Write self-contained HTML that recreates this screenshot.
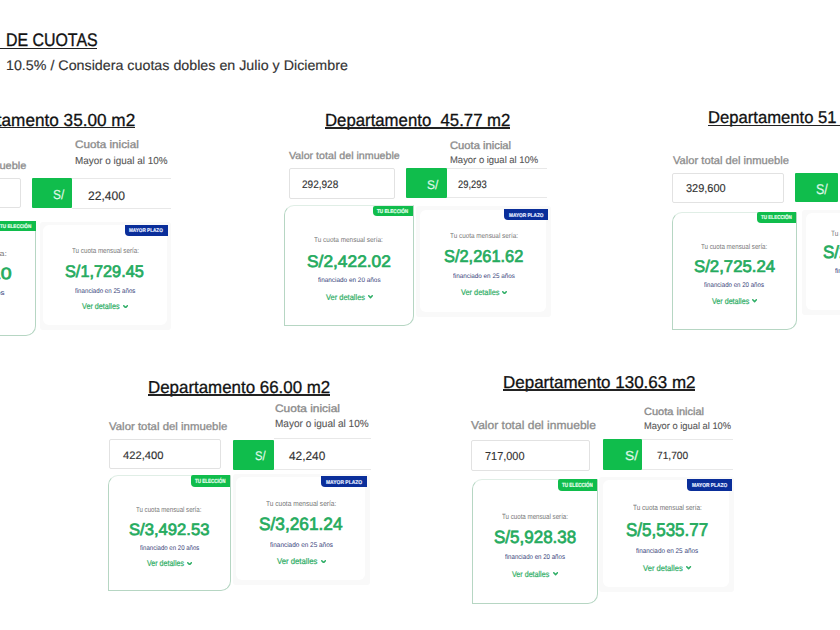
<!DOCTYPE html>
<html><head><meta charset="utf-8"><style>
html,body{margin:0;padding:0;background:#fff;width:840px;height:630px;overflow:hidden;position:relative}
.t{position:absolute;white-space:nowrap;font-family:"Liberation Sans", sans-serif;transform-origin:0 0;text-rendering:geometricPrecision}
.b{position:absolute}
</style></head><body>
<div id="t1" class="t" style="left:6.00px;top:28px;font-size:18.17px;line-height:24px;color:#111;font-weight:normal;-webkit-text-stroke:0.35px #111;transform:scaleX(0.8759);">DE CUOTAS</div>
<div class="b" style="left:0.00px;top:48.00px;width:97.30px;height:1.30px;background:#222;"></div>
<div id="t2" class="t" style="left:5.70px;top:56px;font-size:13.95px;line-height:18px;color:#333;font-weight:normal;-webkit-text-stroke:0.15px #333;transform:scaleX(1.0239);">10.5% / Considera cuotas dobles en Julio y Diciembre</div>
<div id="t3" class="t" style="left:-50.50px;top:109px;font-size:17.44px;line-height:22px;color:#111;font-weight:normal;-webkit-text-stroke:0.30px #111;transform:scaleX(0.9848);white-space:pre;">Departamento 35.00 m2</div>
<div class="b" style="left:-50.50px;top:127.20px;width:185.20px;height:1.30px;background:#222;"></div>
<div id="t4" class="t" style="left:-88.00px;top:159px;font-size:10.32px;line-height:15px;color:#8c8c8c;font-weight:normal;-webkit-text-stroke:0.30px #8c8c8c;transform:scaleX(1.0690);">Valor total del inmueble</div>
<div class="b" style="left:-95.00px;top:177.60px;width:116.30px;height:30.60px;border:1px solid #e2e2e2;box-sizing:border-box;background:#fff;border-radius:2px;"></div>
<div id="t5" class="t" style="left:74.75px;top:137px;font-size:10.90px;line-height:16px;color:#8c8c8c;font-weight:normal;-webkit-text-stroke:0.35px #8c8c8c;transform:scaleX(1.0745);">Cuota inicial</div>
<div id="t6" class="t" style="left:74.75px;top:154px;font-size:10.17px;line-height:15px;color:#555;font-weight:normal;-webkit-text-stroke:0.10px #555;transform:scaleX(0.9753);">Mayor o igual al 10%</div>
<div class="b" style="left:72.20px;top:177.60px;width:99.20px;height:31.90px;border-top:1px solid #e8e8e8;border-bottom:1px solid #e8e8e8;box-sizing:border-box;background:#fff;"></div>
<div class="b" style="left:32.10px;top:177.90px;width:40.10px;height:30.40px;background:#10bd4c;border-radius:1px;"></div>
<div id="t7" class="t" style="left:53.10px;top:185px;font-size:13.08px;line-height:19px;color:#dff7e6;font-weight:normal;-webkit-text-stroke:0.20px #dff7e6;transform:scaleX(0.9062);">S/</div>
<div id="t8" class="t" style="left:87.90px;top:187px;font-size:12.35px;line-height:18px;color:#333;font-weight:normal;-webkit-text-stroke:0.15px #333;transform:scaleX(0.9797);">22,400</div>
<div class="b" style="left:39.60px;top:221.80px;width:131.80px;height:108.20px;background:#f9f9f9;border-radius:3px;"></div>
<div class="b" style="left:43.10px;top:225.30px;width:123.80px;height:100.20px;background:#fff;border-radius:6px;"></div>
<div class="b" style="left:125.00px;top:224.60px;width:42.80px;height:11.50px;background:#0a2e9a;border-radius:0 0 0 4px;"></div>
<div id="t9" class="t" style="left:129.28px;top:226px;font-size:5.40px;line-height:10px;color:#e2eaff;font-weight:bold;-webkit-text-stroke:0.20px #e2eaff;transform:scaleX(0.8594);">MAYOR PLAZO</div>
<div id="t10" class="t" style="left:71.80px;top:244px;font-size:7.40px;line-height:13px;color:#777;font-weight:normal;transform:scaleX(0.8479);">Tu cuota mensual sería:</div>
<div id="t11" class="t" style="left:65.40px;top:261px;font-size:16.86px;line-height:21px;color:#25ab5e;font-weight:normal;-webkit-text-stroke:0.70px #25ab5e;transform:scaleX(0.9661);">S/1,729.45</div>
<div id="t12" class="t" style="left:75.00px;top:286px;font-size:6.80px;line-height:11px;color:#38437a;font-weight:normal;transform:scaleX(0.9081);">financiado en 25 años</div>
<div id="t13" class="t" style="left:82.10px;top:299px;font-size:8.30px;line-height:14px;color:#2fae66;font-weight:normal;-webkit-text-stroke:0.20px #2fae66;transform:scaleX(0.8656);">Ver detalles</div>
<svg class="b" style="left:122.95px;top:304.90px" width="5.15" height="3.60" viewBox="0 0 10 7"><path d="M1.5 1.5 L5 5.2 L8.5 1.5" fill="none" stroke="#2fae66" stroke-width="3" stroke-linecap="round" stroke-linejoin="round"/></svg>
<div class="b" style="left:-94.00px;top:220.50px;width:130.10px;height:115.10px;border:1px solid #b6d6c3;border-top-color:#e0eee6;border-radius:10px 0 10px 0;box-sizing:border-box;background:#fff;"></div>
<div class="b" style="left:-4.50px;top:220.50px;width:40.10px;height:10.90px;background:#10bd4c;border-radius:2px 0 0 4px;"></div>
<div id="t14" class="t" style="left:-0.49px;top:222px;font-size:5.45px;line-height:10px;color:#e3ffec;font-weight:bold;-webkit-text-stroke:0.20px #e3ffec;transform:scaleX(0.8486);">TU ELECCIÓN</div>
<div id="t15" class="t" style="right:833.40px;transform-origin:100% 0;transform:scaleX(1.2);top:247px;font-size:7.40px;line-height:13px;color:#777;font-weight:normal;">Tu cuota mensual sería:</div>
<div id="t16" class="t" style="right:828.00px;transform-origin:100% 0;transform:scaleX(1.2);top:263px;font-size:16.28px;line-height:22px;color:#25ab5e;font-weight:normal;-webkit-text-stroke:0.70px #25ab5e;">S/1,844.10</div>
<div id="t17" class="t" style="right:835.90px;transform-origin:100% 0;transform:scaleX(1.2);top:288px;font-size:6.80px;line-height:11px;color:#38437a;font-weight:normal;">financiado en 20 años</div>
<div id="t18" class="t" style="left:324.60px;top:109px;font-size:17.44px;line-height:22px;color:#111;font-weight:normal;-webkit-text-stroke:0.30px #111;transform:scaleX(0.9611);white-space:pre;">Departamento  45.77 m2</div>
<div class="b" style="left:324.60px;top:127.40px;width:185.40px;height:1.30px;background:#222;"></div>
<div id="t19" class="t" style="left:289.20px;top:149px;font-size:10.32px;line-height:15px;color:#8c8c8c;font-weight:normal;-webkit-text-stroke:0.30px #8c8c8c;transform:scaleX(1.0354);">Valor total del inmueble</div>
<div class="b" style="left:289.20px;top:168.30px;width:105.50px;height:30.40px;border:1px solid #e2e2e2;box-sizing:border-box;background:#fff;border-radius:2px;"></div>
<div id="t20" class="t" style="left:301.70px;top:177px;font-size:10.90px;line-height:16px;color:#333;font-weight:normal;-webkit-text-stroke:0.15px #333;transform:scaleX(0.9219);">292,928</div>
<div id="t21" class="t" style="left:449.50px;top:138px;font-size:10.90px;line-height:16px;color:#8c8c8c;font-weight:normal;-webkit-text-stroke:0.35px #8c8c8c;transform:scaleX(1.0299);">Cuota inicial</div>
<div id="t22" class="t" style="left:449.50px;top:153px;font-size:9.59px;line-height:15px;color:#555;font-weight:normal;-webkit-text-stroke:0.10px #555;transform:scaleX(0.9866);">Mayor o igual al 10%</div>
<div class="b" style="left:446.70px;top:168.30px;width:100.30px;height:29.90px;border-top:1px solid #e8e8e8;border-bottom:1px solid #e8e8e8;box-sizing:border-box;background:#fff;"></div>
<div class="b" style="left:406.10px;top:168.30px;width:40.60px;height:29.90px;background:#10bd4c;border-radius:1px;"></div>
<div id="t23" class="t" style="left:426.70px;top:176px;font-size:12.50px;line-height:18px;color:#dff7e6;font-weight:normal;-webkit-text-stroke:0.20px #dff7e6;transform:scaleX(0.9566);">S/</div>
<div id="t24" class="t" style="left:458.00px;top:177px;font-size:10.90px;line-height:16px;color:#333;font-weight:normal;-webkit-text-stroke:0.15px #333;transform:scaleX(0.8615);">29,293</div>
<div class="b" style="left:416.20px;top:206.00px;width:134.80px;height:110.60px;background:#f9f9f9;border-radius:3px;"></div>
<div class="b" style="left:419.70px;top:209.50px;width:126.80px;height:102.60px;background:#fff;border-radius:6px;"></div>
<div class="b" style="left:504.20px;top:209.20px;width:43.60px;height:11.30px;background:#0a2e9a;border-radius:0 0 0 4px;"></div>
<div id="t25" class="t" style="left:508.56px;top:211px;font-size:5.31px;line-height:10px;color:#e2eaff;font-weight:bold;-webkit-text-stroke:0.20px #e2eaff;transform:scaleX(0.8910);">MAYOR PLAZO</div>
<div id="t26" class="t" style="left:450.20px;top:229px;font-size:7.20px;line-height:13px;color:#777;font-weight:normal;transform:scaleX(0.8849);">Tu cuota mensual sería:</div>
<div id="t27" class="t" style="left:444.30px;top:245px;font-size:17.15px;line-height:22px;color:#25ab5e;font-weight:normal;-webkit-text-stroke:0.70px #25ab5e;transform:scaleX(0.9563);">S/2,261.62</div>
<div id="t28" class="t" style="left:453.30px;top:271px;font-size:6.60px;line-height:11px;color:#38437a;font-weight:normal;transform:scaleX(0.9592);">financiado en 25 años</div>
<div id="t29" class="t" style="left:460.50px;top:286px;font-size:8.10px;line-height:13px;color:#2fae66;font-weight:normal;-webkit-text-stroke:0.20px #2fae66;transform:scaleX(0.9111);">Ver detalles</div>
<svg class="b" style="left:502.28px;top:290.54px" width="5.02" height="3.52" viewBox="0 0 10 7"><path d="M1.5 1.5 L5 5.2 L8.5 1.5" fill="none" stroke="#2fae66" stroke-width="3" stroke-linecap="round" stroke-linejoin="round"/></svg>
<div class="b" style="left:284.40px;top:205.00px;width:129.60px;height:121.00px;border:1px solid #b6d6c3;border-top-color:#e0eee6;border-radius:10px 0 10px 0;box-sizing:border-box;background:#fff;"></div>
<div class="b" style="left:372.90px;top:205.50px;width:40.00px;height:10.60px;background:#10bd4c;border-radius:2px 0 0 4px;"></div>
<div id="t30" class="t" style="left:376.90px;top:207px;font-size:5.30px;line-height:10px;color:#e3ffec;font-weight:bold;-webkit-text-stroke:0.20px #e3ffec;transform:scaleX(0.8689);">TU ELECCIÓN</div>
<div id="t31" class="t" style="left:314.40px;top:233px;font-size:7.20px;line-height:13px;color:#777;font-weight:normal;transform:scaleX(0.8966);">Tu cuota mensual sería:</div>
<div id="t32" class="t" style="left:307.00px;top:251px;font-size:16.72px;line-height:21px;color:#25ab5e;font-weight:normal;-webkit-text-stroke:0.70px #25ab5e;transform:scaleX(1.0382);">S/2,422.02</div>
<div id="t33" class="t" style="left:317.80px;top:275px;font-size:6.60px;line-height:11px;color:#38437a;font-weight:normal;transform:scaleX(0.9701);">financiado en 20 años</div>
<div id="t34" class="t" style="left:325.60px;top:291px;font-size:8.10px;line-height:13px;color:#2fae66;font-weight:normal;-webkit-text-stroke:0.20px #2fae66;transform:scaleX(0.9230);">Ver detalles</div>
<svg class="b" style="left:367.88px;top:295.34px" width="5.02" height="3.52" viewBox="0 0 10 7"><path d="M1.5 1.5 L5 5.2 L8.5 1.5" fill="none" stroke="#2fae66" stroke-width="3" stroke-linecap="round" stroke-linejoin="round"/></svg>
<div id="t35" class="t" style="left:707.50px;top:106px;font-size:17.01px;line-height:23px;color:#111;font-weight:normal;-webkit-text-stroke:0.30px #111;transform:scaleX(0.9789);white-space:pre;">Departamento 51</div>
<div class="b" style="left:707.50px;top:124.70px;width:133.00px;height:1.30px;background:#222;"></div>
<div id="t36" class="t" style="left:673.30px;top:153px;font-size:10.90px;line-height:16px;color:#8c8c8c;font-weight:normal;-webkit-text-stroke:0.30px #8c8c8c;transform:scaleX(1.0255);">Valor total del inmueble</div>
<div class="b" style="left:672.40px;top:172.60px;width:111.40px;height:30.00px;border:1px solid #e2e2e2;box-sizing:border-box;background:#fff;border-radius:2px;"></div>
<div id="t37" class="t" style="left:685.70px;top:181px;font-size:11.48px;line-height:16px;color:#333;font-weight:normal;-webkit-text-stroke:0.15px #333;transform:scaleX(0.9573);">329,600</div>
<div class="b" style="left:794.80px;top:172.80px;width:43.50px;height:29.70px;background:#10bd4c;border-radius:1px;"></div>
<div id="t38" class="t" style="left:816.40px;top:179px;font-size:14.10px;line-height:20px;color:#dff7e6;font-weight:normal;-webkit-text-stroke:0.20px #dff7e6;transform:scaleX(0.8853);">S/</div>
<div class="b" style="left:802.20px;top:209.50px;width:137.80px;height:105.10px;background:#f9f9f9;border-radius:3px;"></div>
<div class="b" style="left:805.70px;top:213.00px;width:129.80px;height:97.10px;background:#fff;border-radius:6px;"></div>
<div class="b" style="left:900.00px;top:213.00px;width:40.00px;height:11.00px;background:#0a2e9a;border-radius:0 0 0 4px;"></div>
<div id="t39" class="t" style="left:904.00px;top:214px;font-size:5.17px;line-height:10px;color:#e2eaff;font-weight:bold;-webkit-text-stroke:0.20px #e2eaff;transform:scaleX(0.8399);">MAYOR PLAZO</div>
<div id="t40" class="t" style="left:830.70px;top:227px;font-size:7.60px;line-height:13px;color:#777;font-weight:normal;transform:scaleX(0.8536);">Tu cuota mensual sería:</div>
<div id="t41" class="t" style="left:822.60px;top:241px;font-size:17.59px;line-height:22px;color:#25ab5e;font-weight:normal;-webkit-text-stroke:0.70px #25ab5e;transform:scaleX(0.9689);">S/2,542.10</div>
<div id="t42" class="t" style="left:834.60px;top:266px;font-size:7.00px;line-height:11px;color:#38437a;font-weight:normal;transform:scaleX(0.9547);">financiado en 25 años</div>
<div class="b" style="left:671.60px;top:211.60px;width:125.10px;height:118.00px;border:1px solid #b6d6c3;border-top-color:#e0eee6;border-radius:10px 0 10px 0;box-sizing:border-box;background:#fff;"></div>
<div class="b" style="left:756.70px;top:211.60px;width:39.50px;height:11.30px;background:#10bd4c;border-radius:2px 0 0 4px;"></div>
<div id="t43" class="t" style="left:760.65px;top:213px;font-size:5.65px;line-height:10px;color:#e3ffec;font-weight:bold;-webkit-text-stroke:0.20px #e3ffec;transform:scaleX(0.8058);">TU ELECCIÓN</div>
<div id="t44" class="t" style="left:701.00px;top:240px;font-size:7.40px;line-height:13px;color:#777;font-weight:normal;transform:scaleX(0.8391);">Tu cuota mensual sería:</div>
<div id="t45" class="t" style="left:693.80px;top:256px;font-size:16.86px;line-height:21px;color:#25ab5e;font-weight:normal;-webkit-text-stroke:0.70px #25ab5e;transform:scaleX(0.9943);">S/2,725.24</div>
<div id="t46" class="t" style="left:704.00px;top:280px;font-size:6.80px;line-height:11px;color:#38437a;font-weight:normal;transform:scaleX(0.9020);">financiado en 20 años</div>
<div id="t47" class="t" style="left:711.60px;top:294px;font-size:8.30px;line-height:14px;color:#2fae66;font-weight:normal;-webkit-text-stroke:0.20px #2fae66;transform:scaleX(0.8587);">Ver detalles</div>
<svg class="b" style="left:752.15px;top:299.20px" width="5.15" height="3.60" viewBox="0 0 10 7"><path d="M1.5 1.5 L5 5.2 L8.5 1.5" fill="none" stroke="#2fae66" stroke-width="3" stroke-linecap="round" stroke-linejoin="round"/></svg>
<div id="t48" class="t" style="left:148.30px;top:376px;font-size:17.30px;line-height:22px;color:#111;font-weight:normal;-webkit-text-stroke:0.30px #111;transform:scaleX(0.9776);white-space:pre;">Departamento 66.00 m2</div>
<div class="b" style="left:148.30px;top:394.40px;width:182.20px;height:1.30px;background:#222;"></div>
<div id="t49" class="t" style="left:109.20px;top:419px;font-size:10.90px;line-height:16px;color:#8c8c8c;font-weight:normal;-webkit-text-stroke:0.30px #8c8c8c;transform:scaleX(1.0468);">Valor total del inmueble</div>
<div class="b" style="left:109.20px;top:439.20px;width:112.10px;height:30.00px;border:1px solid #e2e2e2;box-sizing:border-box;background:#fff;border-radius:2px;"></div>
<div id="t50" class="t" style="left:122.50px;top:448px;font-size:10.90px;line-height:16px;color:#333;font-weight:normal;-webkit-text-stroke:0.15px #333;transform:scaleX(1.0286);">422,400</div>
<div id="t51" class="t" style="left:274.80px;top:401px;font-size:10.76px;line-height:16px;color:#8c8c8c;font-weight:normal;-webkit-text-stroke:0.35px #8c8c8c;transform:scaleX(1.1099);">Cuota inicial</div>
<div id="t52" class="t" style="left:274.80px;top:417px;font-size:10.47px;line-height:15px;color:#555;font-weight:normal;-webkit-text-stroke:0.10px #555;transform:scaleX(0.9584);">Mayor o igual al 10%</div>
<div class="b" style="left:273.90px;top:438.40px;width:96.90px;height:31.30px;border-top:1px solid #e8e8e8;border-bottom:1px solid #e8e8e8;box-sizing:border-box;background:#fff;"></div>
<div class="b" style="left:233.30px;top:439.80px;width:40.60px;height:29.90px;background:#10bd4c;border-radius:1px;"></div>
<div id="t53" class="t" style="left:255.40px;top:447px;font-size:12.65px;line-height:18px;color:#dff7e6;font-weight:normal;-webkit-text-stroke:0.20px #dff7e6;transform:scaleX(0.8868);">S/</div>
<div id="t54" class="t" style="left:288.70px;top:447px;font-size:12.06px;line-height:18px;color:#333;font-weight:normal;-webkit-text-stroke:0.15px #333;transform:scaleX(0.9848);">42,240</div>
<div class="b" style="left:232.50px;top:473.60px;width:137.10px;height:111.40px;background:#f9f9f9;border-radius:3px;"></div>
<div class="b" style="left:236.00px;top:477.10px;width:129.10px;height:103.40px;background:#fff;border-radius:6px;"></div>
<div class="b" style="left:321.40px;top:475.70px;width:45.70px;height:11.80px;background:#0a2e9a;border-radius:0 0 0 4px;"></div>
<div id="t55" class="t" style="left:325.97px;top:478px;font-size:5.55px;line-height:10px;color:#e2eaff;font-weight:bold;-webkit-text-stroke:0.20px #e2eaff;transform:scaleX(0.8918);">MAYOR PLAZO</div>
<div id="t56" class="t" style="left:266.10px;top:497px;font-size:7.40px;line-height:13px;color:#777;font-weight:normal;transform:scaleX(0.8897);">Tu cuota mensual sería:</div>
<div id="t57" class="t" style="left:259.30px;top:513px;font-size:17.88px;line-height:22px;color:#25ab5e;font-weight:normal;-webkit-text-stroke:0.70px #25ab5e;transform:scaleX(0.9675);">S/3,261.24</div>
<div id="t58" class="t" style="left:269.60px;top:540px;font-size:6.80px;line-height:11px;color:#38437a;font-weight:normal;transform:scaleX(0.9471);">financiado en 25 años</div>
<div id="t59" class="t" style="left:276.90px;top:554px;font-size:8.30px;line-height:14px;color:#2fae66;font-weight:normal;-webkit-text-stroke:0.20px #2fae66;transform:scaleX(0.9302);">Ver detalles</div>
<svg class="b" style="left:320.55px;top:559.90px" width="5.15" height="3.60" viewBox="0 0 10 7"><path d="M1.5 1.5 L5 5.2 L8.5 1.5" fill="none" stroke="#2fae66" stroke-width="3" stroke-linecap="round" stroke-linejoin="round"/></svg>
<div class="b" style="left:108.10px;top:475.30px;width:122.60px;height:116.10px;border:1px solid #b6d6c3;border-top-color:#e0eee6;border-radius:10px 0 10px 0;box-sizing:border-box;background:#fff;"></div>
<div class="b" style="left:191.10px;top:475.30px;width:39.20px;height:11.80px;background:#10bd4c;border-radius:2px 0 0 4px;"></div>
<div id="t60" class="t" style="left:195.02px;top:477px;font-size:5.90px;line-height:10px;color:#e3ffec;font-weight:bold;-webkit-text-stroke:0.20px #e3ffec;transform:scaleX(0.7656);">TU ELECCIÓN</div>
<div id="t61" class="t" style="left:136.40px;top:503px;font-size:7.40px;line-height:13px;color:#777;font-weight:normal;transform:scaleX(0.8277);">Tu cuota mensual sería:</div>
<div id="t62" class="t" style="left:128.90px;top:519px;font-size:16.42px;line-height:22px;color:#25ab5e;font-weight:normal;-webkit-text-stroke:0.70px #25ab5e;transform:scaleX(1.0129);">S/3,492.53</div>
<div id="t63" class="t" style="left:139.60px;top:543px;font-size:6.80px;line-height:11px;color:#38437a;font-weight:normal;transform:scaleX(0.8930);">financiado en 20 años</div>
<div id="t64" class="t" style="left:146.70px;top:556px;font-size:8.30px;line-height:14px;color:#2fae66;font-weight:normal;-webkit-text-stroke:0.20px #2fae66;transform:scaleX(0.8518);">Ver detalles</div>
<svg class="b" style="left:186.95px;top:561.60px" width="5.15" height="3.60" viewBox="0 0 10 7"><path d="M1.5 1.5 L5 5.2 L8.5 1.5" fill="none" stroke="#2fae66" stroke-width="3" stroke-linecap="round" stroke-linejoin="round"/></svg>
<div id="t65" class="t" style="left:502.50px;top:371px;font-size:17.08px;line-height:23px;color:#111;font-weight:normal;-webkit-text-stroke:0.30px #111;transform:scaleX(0.9939);white-space:pre;">Departamento 130.63 m2</div>
<div class="b" style="left:502.50px;top:389.40px;width:192.50px;height:1.30px;background:#222;"></div>
<div id="t66" class="t" style="left:470.80px;top:418px;font-size:11.48px;line-height:16px;color:#8c8c8c;font-weight:normal;-webkit-text-stroke:0.30px #8c8c8c;transform:scaleX(1.0503);">Valor total del inmueble</div>
<div class="b" style="left:470.80px;top:439.70px;width:118.90px;height:31.10px;border:1px solid #e2e2e2;box-sizing:border-box;background:#fff;border-radius:2px;"></div>
<div id="t67" class="t" style="left:484.70px;top:448px;font-size:11.63px;line-height:17px;color:#333;font-weight:normal;-webkit-text-stroke:0.15px #333;transform:scaleX(0.9398);">717,000</div>
<div id="t68" class="t" style="left:643.90px;top:405px;font-size:10.32px;line-height:15px;color:#8c8c8c;font-weight:normal;-webkit-text-stroke:0.35px #8c8c8c;transform:scaleX(1.0679);">Cuota inicial</div>
<div id="t69" class="t" style="left:643.90px;top:419px;font-size:9.59px;line-height:15px;color:#555;font-weight:normal;-webkit-text-stroke:0.10px #555;transform:scaleX(0.9737);">Mayor o igual al 10%</div>
<div class="b" style="left:641.80px;top:438.80px;width:91.10px;height:30.80px;border-top:1px solid #e8e8e8;border-bottom:1px solid #e8e8e8;box-sizing:border-box;background:#fff;"></div>
<div class="b" style="left:602.50px;top:439.30px;width:39.30px;height:31.10px;background:#10bd4c;border-radius:1px;"></div>
<div id="t70" class="t" style="left:624.80px;top:446px;font-size:13.01px;line-height:19px;color:#dff7e6;font-weight:normal;-webkit-text-stroke:0.20px #dff7e6;transform:scaleX(1.0653);">S/</div>
<div id="t71" class="t" style="left:657.00px;top:449px;font-size:10.47px;line-height:15px;color:#333;font-weight:normal;-webkit-text-stroke:0.15px #333;transform:scaleX(0.9740);">71,700</div>
<div class="b" style="left:599.40px;top:476.70px;width:134.50px;height:115.10px;background:#f9f9f9;border-radius:3px;"></div>
<div class="b" style="left:602.90px;top:480.20px;width:126.50px;height:107.10px;background:#fff;border-radius:6px;"></div>
<div class="b" style="left:687.20px;top:478.90px;width:44.50px;height:12.20px;background:#0a2e9a;border-radius:0 0 0 4px;"></div>
<div id="t72" class="t" style="left:691.65px;top:481px;font-size:5.73px;line-height:10px;color:#e2eaff;font-weight:bold;-webkit-text-stroke:0.20px #e2eaff;transform:scaleX(0.8424);">MAYOR PLAZO</div>
<div id="t73" class="t" style="left:632.80px;top:501px;font-size:7.50px;line-height:13px;color:#777;font-weight:normal;transform:scaleX(0.8592);">Tu cuota mensual sería:</div>
<div id="t74" class="t" style="left:626.10px;top:518px;font-size:18.46px;line-height:23px;color:#25ab5e;font-weight:normal;-webkit-text-stroke:0.70px #25ab5e;transform:scaleX(0.9215);">S/5,535.77</div>
<div id="t75" class="t" style="left:636.10px;top:546px;font-size:6.90px;line-height:11px;color:#38437a;font-weight:normal;transform:scaleX(0.9223);">financiado en 25 años</div>
<div id="t76" class="t" style="left:643.40px;top:561px;font-size:8.40px;line-height:14px;color:#2fae66;font-weight:normal;-webkit-text-stroke:0.20px #2fae66;transform:scaleX(0.9078);">Ver detalles</div>
<svg class="b" style="left:686.49px;top:566.28px" width="5.21" height="3.65" viewBox="0 0 10 7"><path d="M1.5 1.5 L5 5.2 L8.5 1.5" fill="none" stroke="#2fae66" stroke-width="3" stroke-linecap="round" stroke-linejoin="round"/></svg>
<div class="b" style="left:472.30px;top:479.30px;width:125.60px;height:125.10px;border:1px solid #b6d6c3;border-top-color:#e0eee6;border-radius:10px 0 10px 0;box-sizing:border-box;background:#fff;"></div>
<div class="b" style="left:557.90px;top:479.30px;width:39.50px;height:11.80px;background:#10bd4c;border-radius:2px 0 0 4px;"></div>
<div id="t77" class="t" style="left:561.85px;top:481px;font-size:5.90px;line-height:10px;color:#e3ffec;font-weight:bold;-webkit-text-stroke:0.20px #e3ffec;transform:scaleX(0.7715);">TU ELECCIÓN</div>
<div id="t78" class="t" style="left:501.70px;top:510px;font-size:7.50px;line-height:13px;color:#777;font-weight:normal;transform:scaleX(0.8231);">Tu cuota mensual sería:</div>
<div id="t79" class="t" style="left:493.90px;top:526px;font-size:17.73px;line-height:22px;color:#25ab5e;font-weight:normal;-webkit-text-stroke:0.70px #25ab5e;transform:scaleX(0.9590);">S/5,928.38</div>
<div id="t80" class="t" style="left:505.00px;top:552px;font-size:6.90px;line-height:11px;color:#38437a;font-weight:normal;transform:scaleX(0.8897);">financiado en 20 años</div>
<div id="t81" class="t" style="left:512.10px;top:567px;font-size:8.40px;line-height:14px;color:#2fae66;font-weight:normal;-webkit-text-stroke:0.20px #2fae66;transform:scaleX(0.8507);">Ver detalles</div>
<svg class="b" style="left:552.69px;top:572.48px" width="5.21" height="3.65" viewBox="0 0 10 7"><path d="M1.5 1.5 L5 5.2 L8.5 1.5" fill="none" stroke="#2fae66" stroke-width="3" stroke-linecap="round" stroke-linejoin="round"/></svg>
</body></html>
